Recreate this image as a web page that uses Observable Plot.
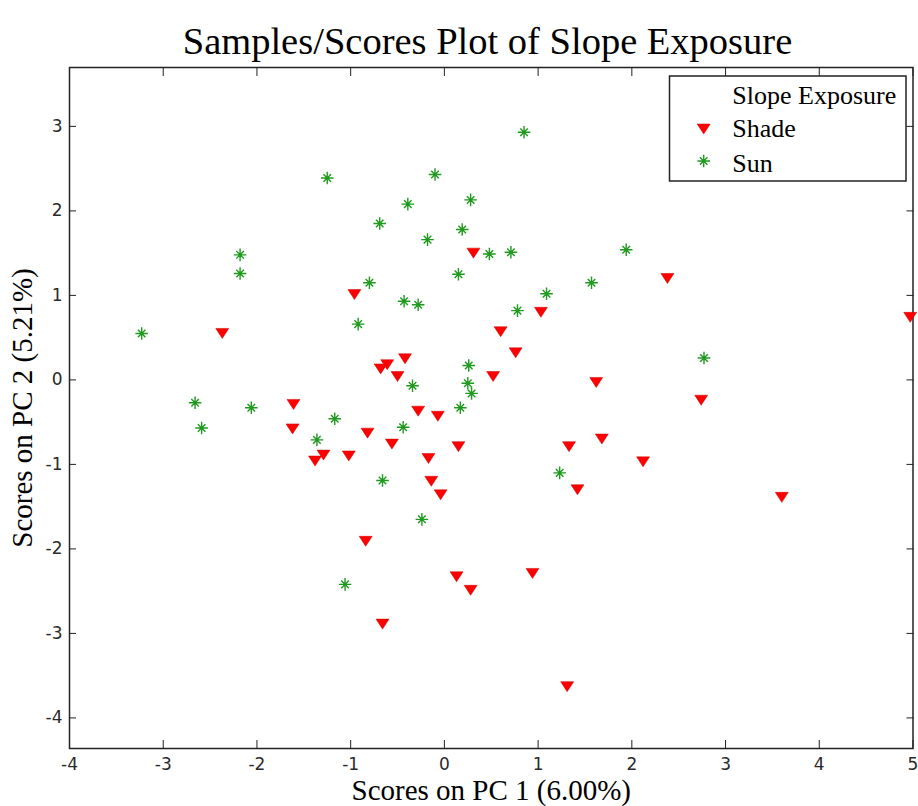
<!DOCTYPE html>
<html><head><meta charset="utf-8">
<script src="https://cdn.jsdelivr.net/npm/d3@7"></script>
<script src="https://cdn.jsdelivr.net/npm/@observablehq/plot@0.6"></script>
<style>
body{margin:0;background:#fff;}
#wrap{width:918px;height:806px;position:relative;overflow:hidden;}
#title{height:56px;box-sizing:border-box;padding:22px 12px 0 69px;font:38.5px/1 "Liberation Serif",serif;text-align:center;color:#000;white-space:nowrap;}
#chart svg{display:block;}
</style></head><body>
<div id="wrap"><div id="title"></div><div id="chart"></div></div>
<script>
const titleText = "Samples/Scores Plot of Slope Exposure";
const xLabel = "Scores on PC 1 (6.00%)";
const yLabel = "Scores on PC 2 (5.21%)";
const legendTitle = "Slope Exposure";
const groups = ["Shade", "Sun"];
const xTicks = [-4, -3, -2, -1, 0, 1, 2, 3, 4, 5];
const yTicks = [-4, -3, -2, -1, 0, 1, 2, 3];

const shadeX = [0.31,-0.96,1.03,0.60,0.76,-0.42,-0.61,-0.68,-0.50,0.52,1.62,-1.61,-0.28,-0.07,-1.62,-0.82,-0.56,0.15,1.68,1.33,-1.29,-1.38,-1.02,-0.17,-0.14,-0.04,1.42,-0.84,0.13,0.28,0.94,-0.66,1.31,-2.37,2.38,4.97,2.74,2.12,3.60];
const shadeY = [1.50,1.01,0.80,0.57,0.32,0.25,0.18,0.13,0.04,0.04,-0.03,-0.29,-0.37,-0.43,-0.58,-0.63,-0.76,-0.79,-0.70,-0.79,-0.89,-0.96,-0.90,-0.93,-1.20,-1.36,-1.30,-1.91,-2.33,-2.49,-2.29,-2.89,-3.63,0.55,1.20,0.74,-0.24,-0.97,-1.39];
const sunX = [0.85,-1.25,-0.10,0.28,-0.39,-0.69,0.19,-0.18,-2.18,-2.18,0.48,0.71,0.15,-0.80,1.57,1.94,1.09,0.78,-0.43,-0.28,-0.92,-3.23,0.26,-0.34,0.25,0.29,-1.17,0.17,-0.44,-1.36,-0.66,1.23,-0.24,-1.06,-2.66,-2.59,-2.06,2.77];
const sunY = [2.93,2.39,2.43,2.13,2.08,1.85,1.78,1.66,1.48,1.26,1.49,1.51,1.25,1.15,1.15,1.54,1.02,0.82,0.93,0.89,0.66,0.55,0.17,-0.07,-0.04,-0.16,-0.46,-0.33,-0.56,-0.71,-1.19,-1.10,-1.65,-2.42,-0.27,-0.57,-0.33,0.26];

const shade = shadeX.map((x, i) => ({x, y: shadeY[i], g: groups[0]}));
const sun = sunX.map((x, i) => ({x, y: sunY[i], g: groups[1]}));

const RED = "#ff0000", GREEN = "#1e9a1e";
const triDown = {draw(ctx, size) {
  const r = Math.sqrt(size / Math.PI);
  ctx.moveTo(-1.3 * r, -r); ctx.lineTo(1.3 * r, -r); ctx.lineTo(0, r); ctx.closePath();
}};
const star = {draw(ctx, size) {
  const r = Math.sqrt(size / Math.PI), d = r * 0.6;
  ctx.moveTo(-r, 0); ctx.lineTo(r, 0); ctx.moveTo(0, -r); ctx.lineTo(0, r);
  ctx.moveTo(-d, -d); ctx.lineTo(d, d); ctx.moveTo(-d, d); ctx.lineTo(d, -d);
}};

document.getElementById("title").textContent = titleText;

const serif = "Liberation Serif";
const fmt = d => String(d);
const plot = Plot.plot({
  width: 918, height: 750,
  marginTop: 11, marginBottom: 58, marginLeft: 69, marginRight: 5.5,
  style: {fontFamily: "DejaVu Sans", fontSize: "17px", color: "#2a2a2a", background: "#fff", overflow: "visible"},
  x: {domain: [-4, 5]},
  y: {domain: [-4.362, 3.697]},
  marks: [
    Plot.axisX(xTicks, {anchor: "bottom", tickSize: -8, tickPadding: 17, tickFormat: fmt, label: null, stroke: "#222"}),
    Plot.axisX(xTicks, {anchor: "top", tickSize: -8, tickFormat: () => "", label: null, stroke: "#222"}),
    Plot.axisY(yTicks, {anchor: "left", tickSize: -7, tickPadding: 14, tickFormat: fmt, label: null, stroke: "#222"}),
    Plot.axisY(yTicks, {anchor: "right", tickSize: -7, tickFormat: () => "", label: null, stroke: "#222"}),
    Plot.frame({stroke: "#222", strokeWidth: 1.5}),
    Plot.text([xLabel], {frameAnchor: "bottom", text: d => d, dy: 42.7, lineAnchor: "middle", textAnchor: "middle", fontFamily: serif, fontSize: 29, fill: "#000"}),
    Plot.text([yLabel], {frameAnchor: "left", text: d => d, dx: -46.3, rotate: -90, lineAnchor: "middle", textAnchor: "middle", fontFamily: serif, fontSize: 29, fill: "#000"}),
    Plot.dot(shade, {x: "x", y: "y", symbol: triDown, r: 5, fill: RED, stroke: "#c80000", strokeWidth: 0.5}),
    Plot.dot(sun, {x: "x", y: "y", symbol: star, r: 6.3, fill: "none", stroke: GREEN, strokeWidth: 1.4})
  ]
});
document.getElementById("chart").appendChild(plot);

// legend
const svg = d3.select(plot);
const lg = svg.append("g").attr("class", "legend").attr("text-anchor", "start");
lg.append("rect").attr("x", 669.5).attr("y", 20).attr("width", 236.5).attr("height", 105)
  .attr("fill", "#fff").attr("stroke", "#222").attr("stroke-width", 1.5);
lg.append("text").attr("x", 732.3).attr("y", 48).text(legendTitle)
  .attr("font-family", serif).attr("font-size", 26).attr("fill", "#000");
const entries = [
  {label: groups[0], sym: triDown, r: 5, fill: RED, stroke: "#c80000", sw: 0.5, ty: 81, my: 73},
  {label: groups[1], sym: star, r: 6.3, fill: "none", stroke: GREEN, sw: 1.4, ty: 115.7, my: 105}
];
for (const e of entries) {
  lg.append("path").attr("transform", `translate(703.7,${e.my})`)
    .attr("d", d3.symbol(e.sym, e.r * e.r * Math.PI)())
    .attr("fill", e.fill).attr("stroke", e.stroke).attr("stroke-width", e.sw);
  lg.append("text").attr("x", 732.3).attr("y", e.ty).text(e.label)
    .attr("font-family", serif).attr("font-size", 26).attr("fill", "#000");
}
</script>
</body></html>
